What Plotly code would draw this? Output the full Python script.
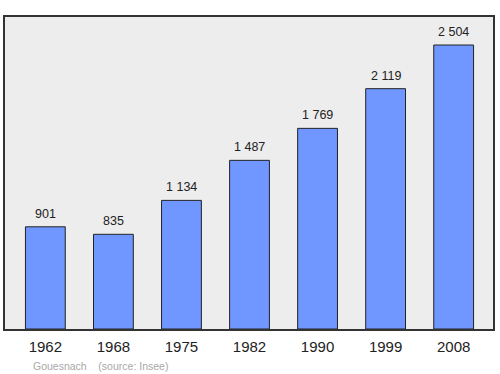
import plotly.graph_objects as go

years = ["1962", "1968", "1975", "1982", "1990", "1999", "2008"]
population = [901, 835, 1134, 1487, 1769, 2119, 2504]
labels = ["901", "835", "1 134", "1 487", "1 769", "2 119", "2 504"]

fig = go.Figure()
fig.add_trace(go.Bar(
    x=years, y=population,
    marker=dict(color="#7097ff", line=dict(color="#222222", width=1)),
    width=0.585,
    hoverinfo="skip",
))

for i, (v, t) in enumerate(zip(population, labels)):
    fig.add_annotation(x=i, y=v, text=t, showarrow=False, yanchor="bottom",
                       yshift=4, font=dict(family="Liberation Sans, Arial", size=12.5, color="#222222"))

fig.add_annotation(xref="paper", yref="paper", x=0.053, y=-0.092, xanchor="left", yanchor="top",
                   text="Gouesnach&nbsp;&nbsp;&nbsp;&nbsp;(source: Insee)", showarrow=False,
                   font=dict(family="Liberation Sans, Arial", size=10.5, color="#a8a8a8"))

fig.update_layout(
    width=500, height=374,
    margin=dict(l=5, r=5, t=17, b=45),
    paper_bgcolor="white",
    plot_bgcolor="#ededed",
    showlegend=False,
    xaxis=dict(type="category", range=[-0.593, 6.578], showgrid=False, zeroline=False,
               showline=True, mirror=True, linecolor="#333333", linewidth=1.5,
               ticks="", tickfont=dict(family="Liberation Sans, Arial", size=15, color="#222222"),
               ticklabelstandoff=3),
    yaxis=dict(range=[0, 2751], showgrid=False, zeroline=False, showticklabels=False,
               showline=True, mirror=True, linecolor="#333333", linewidth=1.5, ticks=""),
)

fig.write_html("out.html")
